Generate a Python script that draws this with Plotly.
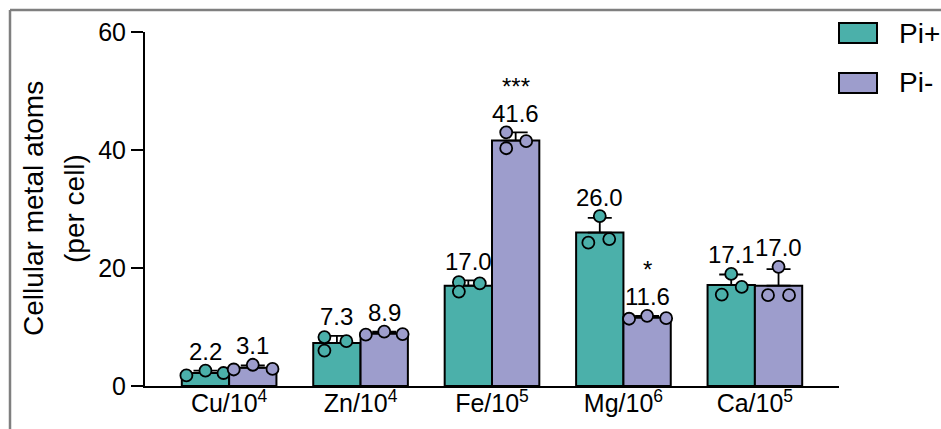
import plotly.graph_objects as go

# ---- data -------------------------------------------------------------
CATEGORIES = ["Cu/10<sup>4</sup>", "Zn/10<sup>4</sup>", "Fe/10<sup>5</sup>",
              "Mg/10<sup>6</sup>", "Ca/10<sup>5</sup>"]
SERIES = ["Pi+", "Pi-"]

pi_plus_mean = [2.2, 7.3, 17.0, 26.0, 17.1]
pi_minus_mean = [3.1, 8.9, 41.6, 11.6, 17.0]

pi_plus_sd = [0.4, 1.2, 0.9, 2.5, 1.8]
pi_minus_sd = [0.4, 0.3, 1.4, 0.3, 2.8]

pi_plus_points = [[1.8, 2.6, 2.2], [8.3, 6.0, 7.6], [17.6, 16.0, 17.4],
                  [28.8, 24.3, 24.9], [19.0, 15.5, 16.8]]
pi_minus_points = [[2.8, 3.6, 2.9], [8.7, 9.2, 8.8], [43.0, 40.3, 41.5],
                   [11.4, 11.9, 11.5], [20.2, 15.4, 15.4]]

pi_minus_signif = ["", "", "***", "*", ""]

Y_TICKS = [0, 20, 40, 60]

# ---- style ------------------------------------------------------------
COLORS = ["#4bb0aa", "#9d9dcc"]
BAR_W = 0.36
# horizontal scatter of replicate dots within each bar (category units)
JITTER = [
    [[-0.145, 0, 0.137], [-0.095, -0.095, 0.072], [-0.072, -0.072, 0.087],
     [0, -0.087, 0.072], [0, -0.072, 0.08]],
    [[-0.145, 0, 0.15], [-0.14, 0, 0.14], [-0.072, -0.072, 0.08],
     [-0.137, 0, 0.145], [0, -0.08, 0.08]],
]
FONT = "Liberation Sans, Arial, Helvetica, sans-serif"

W, H = 941, 429
ML, MR, MT, MB = 145, 102, 32, 43
PW, PH = W - ML - MR, H - MT - MB


def px_x(p):
    return (p - ML) / PW


def px_y(p):
    return (H - MB - p) / PH


fig = go.Figure()

means = [pi_plus_mean, pi_minus_mean]
sds = [pi_plus_sd, pi_minus_sd]
points = [pi_plus_points, pi_minus_points]
sides = [-1, 1]

for s in range(2):
    xb = [i + sides[s] * BAR_W / 2 for i in range(len(CATEGORIES))]
    fig.add_trace(go.Bar(
        x=xb, y=means[s], width=BAR_W, name=SERIES[s], showlegend=False,
        marker=dict(color=COLORS[s], line=dict(color="black", width=2)),
        error_y=dict(type="data", symmetric=False, array=sds[s],
                     arrayminus=[0] * len(CATEGORIES), color="black",
                     thickness=1.8, width=12),
    ))

for s in range(2):
    xs, ys = [], []
    for i in range(len(CATEGORIES)):
        xc = i + sides[s] * BAR_W / 2
        for v, j in zip(points[s][i], JITTER[s][i]):
            xs.append(xc + j)
            ys.append(v)
    fig.add_trace(go.Scatter(
        x=xs, y=ys, mode="markers", showlegend=False, cliponaxis=False,
        marker=dict(size=12, color=COLORS[s],
                    line=dict(color="black", width=1.8)),
    ))

annotations = []
for s in range(2):
    for i in range(len(CATEGORIES)):
        xc = i + sides[s] * BAR_W / 2
        top = max(means[s][i] + sds[s][i], max(points[s][i]))
        annotations.append(dict(
            x=xc, y=top, xref="x", yref="y", text=f"{means[s][i]:.1f}",
            showarrow=False, yanchor="middle", yshift=19,
            font=dict(size=24, color="black", family=FONT)))
        if s == 1 and pi_minus_signif[i]:
            annotations.append(dict(
                x=xc, y=top, xref="x", yref="y", text=pi_minus_signif[i],
                showarrow=False, yanchor="middle", yshift=46,
                font=dict(size=24, color="black", family=FONT)))

# y-axis title, two lines
annotations.append(dict(
    x=px_x(33), y=0.5, xref="paper", yref="paper", text="Cellular metal atoms",
    textangle=-90, showarrow=False, xanchor="center", yanchor="middle",
    font=dict(size=28, color="black", family=FONT)))
annotations.append(dict(
    x=px_x(74), y=0.5, xref="paper", yref="paper", text="(per cell)",
    textangle=-90, showarrow=False, xanchor="center", yanchor="middle",
    font=dict(size=28, color="black", family=FONT)))

# legend
shapes = []
legend_y = [33, 83]
for s in range(2):
    yc = legend_y[s]
    shapes.append(dict(type="rect", xref="paper", yref="paper",
                       x0=px_x(839), x1=px_x(877), y0=px_y(yc + 10), y1=px_y(yc - 10),
                       fillcolor=COLORS[s], line=dict(color="black", width=2)))
    annotations.append(dict(
        x=px_x(897), y=px_y(yc), xref="paper", yref="paper", text=SERIES[s],
        showarrow=False, xanchor="left", yanchor="middle",
        font=dict(size=28, color="black", family=FONT)))

# outer frame (left and top edges)
frame = dict(color="#7f7f7f", width=2.5)
shapes.append(dict(type="line", xref="paper", yref="paper",
                   x0=px_x(10), x1=px_x(10), y0=px_y(10), y1=px_y(H + 5), line=frame))
shapes.append(dict(type="line", xref="paper", yref="paper",
                   x0=px_x(10), x1=px_x(W + 5), y0=px_y(10), y1=px_y(10), line=frame))

fig.update_layout(
    width=W, height=H,
    margin=dict(l=ML, r=MR, t=MT, b=MB, autoexpand=False),
    paper_bgcolor="white", plot_bgcolor="white",
    font=dict(family=FONT, color="black"),
    barmode="overlay",
    showlegend=False,
    annotations=annotations,
    shapes=shapes,
    xaxis=dict(range=[-0.64, 4.64], tickvals=list(range(len(CATEGORIES))),
               ticktext=CATEGORIES, showline=True, linecolor="black",
               linewidth=2, ticks="", showgrid=False, zeroline=False,
               automargin=False, ticklabelstandoff=-6,
               tickfont=dict(size=25, family=FONT, color="black")),
    yaxis=dict(range=[0, 60], tickvals=Y_TICKS, showline=True,
               linecolor="black", linewidth=2, ticks="outside", ticklen=12,
               tickwidth=2, tickcolor="black", showgrid=False, zeroline=False,
               automargin=False,
               tickfont=dict(size=25, family=FONT, color="black")),
)

fig.write_html("out.html")
